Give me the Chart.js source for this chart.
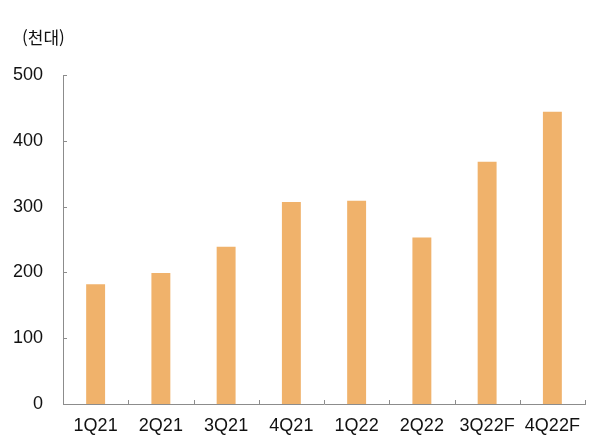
<!DOCTYPE html>
<html lang="ko">
<head>
    <meta charset="UTF-8">
    <title>분기별 출하량</title>
    <script src="https://cdn.jsdelivr.net/npm/chart.js@4/dist/chart.umd.min.js"></script>
    <style>
        body { margin: 0; background: #fff; }
        .wrap { position: relative; width: 600px; height: 445px; }
        .unit {
            position: absolute; left: 22px; top: 24px;
            font: 17px "Noto Sans CJK KR", "Noto Sans", sans-serif; color: #111;
        }
    </style>
</head>
<body>
    <div class="wrap">
        <canvas id="chart" width="600" height="445"></canvas>
        <div class="unit">(천대)</div>
    </div>

    <script>
        // data
        const quarters = ['1Q21', '2Q21', '3Q21', '4Q21', '1Q22', '2Q22', '3Q22F', '4Q22F'];
        const units = [182, 199, 239, 307, 309, 253, 368, 444];
        const yTicks = [0, 100, 200, 300, 400, 500];

        const axisColor = '#8c8c8c';
        const tickFont = { family: '"Liberation Sans", Arial, sans-serif', size: 18 };

        // short tick marks pointing into the plot
        const innerTicks = {
            id: 'innerTicks',
            afterDraw(chart) {
                const { ctx, chartArea, scales } = chart;
                ctx.save();
                ctx.strokeStyle = axisColor;
                ctx.lineWidth = 1;
                ctx.beginPath();
                yTicks.forEach(v => {
                    const y = Math.round(scales.y.getPixelForValue(v)) + 0.5;
                    ctx.moveTo(chartArea.left, y);
                    ctx.lineTo(chartArea.left + 4, y);
                });
                for (let i = 0; i < quarters.length; i++) {
                    const x = Math.round(scales.x.getPixelForValue(i + 0.5)) + 0.5;
                    ctx.moveTo(x, chartArea.bottom);
                    ctx.lineTo(x, chartArea.bottom - 4);
                }
                ctx.stroke();
                ctx.restore();
            }
        };

        new Chart(document.getElementById('chart'), {
            type: 'bar',
            data: {
                labels: quarters,
                datasets: [{
                    data: units,
                    backgroundColor: '#F0B26B',
                    barPercentage: 0.29,
                    categoryPercentage: 1
                }]
            },
            options: {
                responsive: false,
                animation: false,
                layout: { padding: { top: 75, right: 15, left: 0, bottom: 0 } },
                plugins: { legend: { display: false }, tooltip: { enabled: false } },
                scales: {
                    x: {
                        grid: { display: false, drawTicks: false },
                        border: { color: axisColor, width: 1 },
                        ticks: { color: '#111', font: tickFont, padding: 11, maxRotation: 0 },
                        afterFit: s => { s.height = 41; }
                    },
                    y: {
                        min: 0,
                        max: 500,
                        afterBuildTicks: s => { s.ticks = yTicks.map(v => ({ value: v })); },
                        grid: { display: false, drawTicks: false },
                        border: { color: axisColor, width: 1 },
                        ticks: { color: '#111', font: tickFont, padding: 20 },
                        afterFit: s => { s.width = 63; }
                    }
                }
            },
            plugins: [innerTicks]
        });
    </script>
</body>
</html>
